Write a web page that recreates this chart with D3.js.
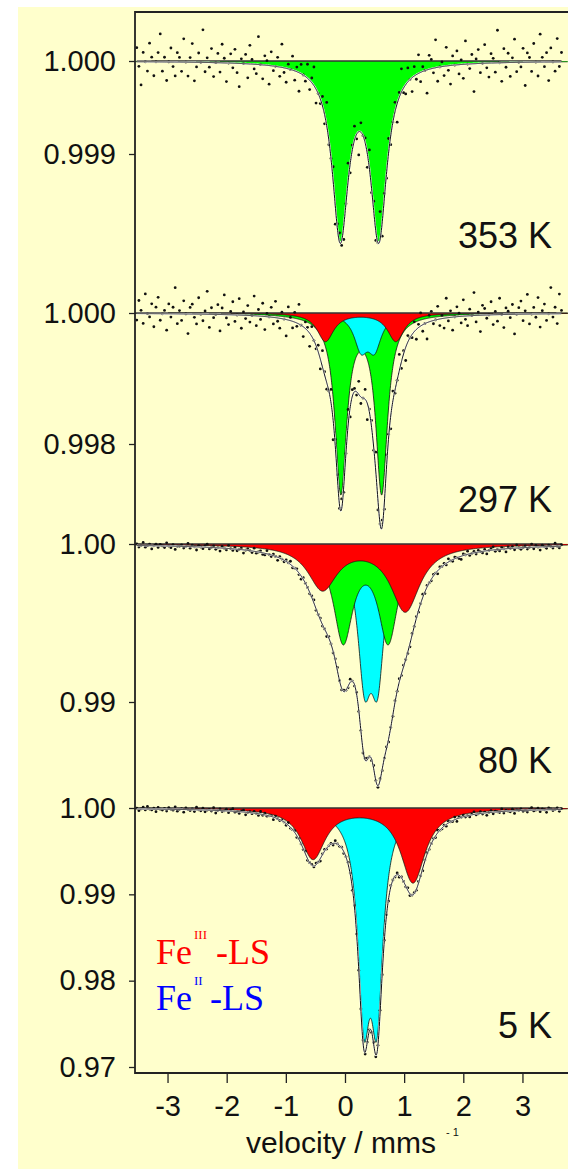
<!DOCTYPE html>
<html lang="en">
<head>
<meta charset="utf-8">
<script src="https://d3js.org/d3.v7.min.js"></script>
<style>
body { margin: 0; background: #fff; }
</style>
</head>
<body>
<script>
// velocity axis
var velocityTicks = [-3, -2, -1, 0, 1, 2, 3];
var velocityDomain = [-3.55, 3.77];
var channelRange = [-3.52, 3.66];

// one entry per panel, top to bottom
var panelNames = ["353 K", "297 K", "80 K", "5 K"];
var panelTicks = [[1.000, 0.999], [1.000, 0.998], [1.00, 0.99], [1.00, 0.99, 0.98, 0.97]];
var tickFormats = [".3f", ".3f", ".2f", ".2f"];

// fitted doublets: site, line centres (mm/s), line depths, half width
// listed in drawing order (deepest first)
var sites353 = [
	{site: "FeII_B", centers: [-0.08, 0.57], depths: [0.00185, 0.00185], hwhm: 0.165}
];
var sites297 = [
	{site: "FeII_B", centers: [-0.07, 0.62], depths: [0.0027, 0.0027], hwhm: 0.12},
	{site: "FeII_LS", centers: [0.27, 0.50], depths: [0.0005, 0.0005], hwhm: 0.14},
	{site: "FeIII_LS", centers: [-0.33, 0.86], depths: [0.00043, 0.00043], hwhm: 0.17}
];
var sites80 = [
	{site: "FeII_LS", centers: [0.33, 0.55], depths: [0.00765, 0.00765], hwhm: 0.14},
	{site: "FeII_B", centers: [-0.03, 0.73], depths: [0.006, 0.006], hwhm: 0.2},
	{site: "FeIII_LS", centers: [-0.38, 1.02], depths: [0.0028, 0.0042], hwhm: 0.3}
];
var sites5 = [
	{site: "FeII_LS", centers: [0.32, 0.54], depths: [0.0216, 0.0216], hwhm: 0.125},
	{site: "FeIII_LS", centers: [-0.54, 1.15], depths: [0.0058, 0.00858], hwhm: 0.25}
];

// measured points minus fit, in units of residualUnit
var residualUnit = [5e-5, 5e-5, 1e-4, 1e-4];
var resid353 = [3,-1,-5,2,0,-2,4,1,-3,0,2,6,-2,1,-4,0,3,-1,-3,2,
	1,-2,5,0,-3,1,4,-4,-1,2,0,7,-2,1,-1,3,-3,0,2,-2,
	4,1,-4,0,2,-1,3,-2,-5,1,0,2,-3,4,1,-1,-2,6,0,-3,
	2,1,-4,3,-1,0,2,-2,5,-1,-3,1,0,3,-2,1,-4,2,0,-1,
	3,-2,1,4,-3,0,-1,2,-2,5,-1,0,3,-4,1,2,-1,-3,0,4,
	-2,1,3,-1,-5,2,0,1,-3,4,-1,2,-2,0,6,-3,1,-1,3,-2,
	0,2,-4,1,5,-1,-2,3,0,-3,2,-1,4,-2,1,0,-5,3,2,-1,
	6,-3,0,1,-2,4,-1,-4,2,0,3,-2,1,-3,5,0,-1,2,-6,1,
	3,-2,0,4,-1,-3,2,1,-2,7,0,-4,3,-1,2,-3,1,5,-2,0,
	-1,3,-5,2,1,-2,4,0,-3,6,1,-1,2,-4,3,0,-2,5,-1,2];
var resid297 = [-2,4,1,-3,6,0,-1,3,-4,2,5,-2,0,1,-5,3,-1,2,8,-3,
	1,-2,4,0,-6,2,3,-1,-3,5,0,-2,1,7,-4,2,-1,0,3,-5,
	2,6,-1,-3,1,4,-2,0,5,-4,1,-1,3,-2,0,6,-3,2,-1,4,
	-4,1,0,3,-2,5,-1,-3,2,0,-5,4,1,-2,3,-1,6,0,-3,2,
	1,-4,3,0,-1,2,-3,5,1,-2,0,4,-6,2,1,-1,3,-2,0,5,
	-3,2,1,-1,4,-2,0,3,-5,1,2,-1,6,-3,0,2,-2,4,1,-4,
	3,-1,0,5,-2,1,-4,2,0,-1,3,-3,1,4,-2,0,-5,2,3,-1,
	0,4,-2,1,-3,6,-1,2,-4,0,3,1,-2,5,-1,-3,2,0,7,-2,
	1,-5,3,2,-1,0,4,-3,1,-2,5,0,-4,2,1,-1,3,-6,0,2,
	4,-2,1,6,-3,0,2,-1,5,-4,1,3,-2,0,8,-1,2,-3,6,1];
var resid80 = [1,-1,0,2,-1,0,1,-2,0,1,-1,1,0,-1,2,0,-1,1,-2,0,
	0,1,-1,0,2,-1,1,0,-2,1,0,-1,1,2,-1,0,1,-1,0,-2,
	1,0,-1,2,0,-1,1,-1,0,1,-2,0,1,0,-1,2,-1,0,1,-1,
	-1,2,0,-1,1,0,-2,1,0,-1,1,0,2,-1,0,1,-1,-2,1,0,
	0,-1,1,2,-1,0,1,-1,0,-2,1,0,-1,1,2,0,-1,1,0,-1,
	2,0,-1,1,-1,0,-2,1,1,0,-1,2,0,-1,1,-1,0,1,-2,0,
	-1,1,0,2,-1,1,0,-1,-2,1,0,1,-1,0,2,-1,1,0,-1,1,
	0,-2,1,0,1,-1,2,0,-1,1,0,-1,-2,1,0,2,-1,0,1,-1,
	1,0,-1,1,-2,0,1,2,-1,0,-1,1,0,-2,1,0,1,-1,2,0,
	-1,0,1,-1,0,2,-1,1,0,-2,1,0,-1,1,0,-1,2,0,-1,1];
var resid5 = [1,-2,0,2,-1,3,0,-1,1,-3,2,0,-1,1,-2,2,0,-1,3,-2,
	0,1,-3,2,0,-1,1,-2,3,0,-1,2,-2,0,1,-1,3,-3,0,2,
	-1,0,2,-2,1,3,-1,0,-2,1,2,-3,0,1,-1,2,0,-2,3,-1,
	2,-1,0,1,-3,2,0,-1,1,0,-2,3,-1,0,2,-2,1,0,-1,3,
	-2,0,1,-1,2,0,-3,1,2,-1,0,1,-2,3,0,-1,1,-2,0,2,
	1,-3,2,0,-1,1,3,-2,0,1,-1,2,-2,0,3,-1,0,1,-3,2,
	0,-1,2,-2,1,0,-1,3,-2,0,1,-1,2,0,-3,1,2,-1,0,1,
	-2,3,0,-1,1,-2,2,0,-1,3,-3,1,0,2,-1,0,-2,1,3,-1,
	0,2,-1,1,-3,0,2,-2,1,0,-1,3,-2,1,0,-1,2,-3,1,0,
	2,-1,0,-2,1,3,-1,0,2,-2,1,0,-3,2,1,-1,0,2,-2,1];

var panelSites = [sites353, sites297, sites80, sites5];
var panelResid = [resid353, resid297, resid80, resid5];

// layout
var W = 568, H = 1169;
var plotLeft = 135, plotRight = 568, plotTop = 12, plotBottom = 1073;
var panelPixels = [[61, 154], [313, 444], [544, 702], [808, 1067]];
var labelBaselines = [248, 512, 773, 1038];
var siteColor = {FeIII_LS: "#ff0000", FeII_LS: "#00ffff", FeII_B: "#00ff00"};
var sansFont = "'Liberation Sans', Arial, sans-serif";
var serifFont = "'Liberation Serif', 'Times New Roman', serif";

function absorption(sites, v){
	var s = 0;
	sites.forEach(function(c){
		c.centers.forEach(function(c0, i){
			var g2 = c.hwhm * c.hwhm;
			s += c.depths[i] * g2 / ((v - c0) * (v - c0) + g2);
		});
	});
	return s;
}

var svg = d3.select("body").append("svg")
	.attr("width", W)
	.attr("height", H);

svg.append("rect").attr("width", W).attr("height", H).attr("fill", "#fff");
svg.append("rect").attr("x", 18).attr("y", 7).attr("width", W - 18).attr("height", H - 7).attr("fill", "#ffffcc");

svg.append("clipPath").attr("id", "plotclip")
	.append("rect").attr("x", plotLeft).attr("y", plotTop)
	.attr("width", plotRight - plotLeft).attr("height", plotBottom - plotTop);

var x = d3.scaleLinear().domain(velocityDomain).range([plotLeft, plotRight]);
var grid = d3.range(velocityDomain[0], velocityDomain[1], 0.005);
var fitGrid = d3.range(channelRange[0], channelRange[1], 0.005);

var plot = svg.append("g").attr("clip-path", "url(#plotclip)");

panelSites.forEach(function(sites, p){
	var ticks = panelTicks[p];
	var y = d3.scaleLinear()
		.domain([ticks[0], ticks[ticks.length - 1]])
		.range(panelPixels[p]);
	var g = plot.append("g");

	sites.forEach(function(site){
		var area = d3.area()
			.x(function(v){ return x(v); })
			.y0(y(1))
			.y1(function(v){ return y(1 - absorption([site], v)); });
		var edge = d3.line()
			.x(function(v){ return x(v); })
			.y(function(v){ return y(1 - absorption([site], v)); });
		g.append("path").attr("d", area(grid)).attr("fill", siteColor[site.site]);
		g.append("path").attr("d", edge(grid)).attr("fill", "none")
			.attr("stroke", "#111").attr("stroke-width", 0.8);
	});

	// baseline
	g.append("line")
		.attr("x1", x(channelRange[0])).attr("x2", x(channelRange[1]))
		.attr("y1", y(1)).attr("y2", y(1))
		.attr("stroke", "#333").attr("stroke-width", 1.3);

	// measured points
	var resid = panelResid[p];
	var n = resid.length;
	var pts = resid.map(function(r, i){
		var v = channelRange[0] + i * (channelRange[1] - channelRange[0]) / (n - 1);
		return {v: v, t: 1 - absorption(sites, v) + r * residualUnit[p]};
	});
	g.selectAll(".pt").data(pts).enter().append("circle")
		.attr("cx", function(d){ return x(d.v); })
		.attr("cy", function(d){ return y(d.t); })
		.attr("r", 1.4)
		.attr("fill", "#111");

	// total fit
	var fit = d3.line()
		.x(function(v){ return x(v); })
		.y(function(v){ return y(1 - absorption(sites, v)); });
	g.append("path").attr("d", fit(fitGrid)).attr("fill", "none")
		.attr("stroke", "#fff").attr("stroke-width", 1.8);
	g.append("path").attr("d", fit(fitGrid)).attr("fill", "none")
		.attr("stroke", "#111").attr("stroke-width", 1);

	// y axis ticks
	var ax = svg.append("g")
		.attr("transform", "translate(" + plotLeft + ",0)")
		.call(d3.axisLeft(y).tickValues(ticks).tickFormat(d3.format(tickFormats[p])).tickSize(6).tickPadding(13));
	ax.select(".domain").remove();
	ax.selectAll("line").attr("stroke", "#222").attr("stroke-width", 1.3);
	ax.selectAll("text").attr("font-size", 29).attr("font-family", sansFont).attr("fill", "#111");

	svg.append("text")
		.attr("x", 552).attr("y", labelBaselines[p])
		.attr("text-anchor", "end")
		.attr("font-family", sansFont).attr("font-size", 36).attr("fill", "#111")
		.text(panelNames[p]);
});

// frame
svg.append("path")
	.attr("d", "M" + plotRight + "," + plotTop + "H" + plotLeft + "V" + plotBottom + "H" + plotRight)
	.attr("fill", "none").attr("stroke", "#222").attr("stroke-width", 1.8);

var xa = svg.append("g")
	.attr("transform", "translate(0," + plotBottom + ")")
	.call(d3.axisBottom(x).tickValues(velocityTicks).tickFormat(d3.format("d")).tickSize(10).tickPadding(12));
xa.select(".domain").remove();
xa.selectAll("line").attr("stroke", "#222").attr("stroke-width", 1.3);
xa.selectAll("text").attr("font-size", 29).attr("font-family", sansFont).attr("fill", "#111")
	.text(function(d){ return d < 0 ? "-" + Math.abs(d) : d; });

svg.append("text")
	.attr("x", 246).attr("y", 1153)
	.attr("font-family", sansFont).attr("font-size", 30).attr("fill", "#111")
	.text("velocity / mms");
svg.append("text")
	.attr("x", 446).attr("y", 1136)
	.attr("font-family", sansFont).attr("font-size", 11).attr("fill", "#111")
	.text("- 1");

// legend
function legendEntry(yBase, sup, dashX, color){
	svg.append("text").attr("x", 156).attr("y", yBase)
		.attr("font-family", serifFont).attr("font-size", 36).attr("fill", color).text("Fe");
	svg.append("text").attr("x", 194).attr("y", yBase - 25)
		.attr("font-family", serifFont).attr("font-size", 13).attr("fill", color).text(sup);
	svg.append("text").attr("x", dashX).attr("y", yBase)
		.attr("font-family", serifFont).attr("font-size", 36).attr("fill", color).text("-LS");
}
legendEntry(964, "III", 216, "#ff0000");
legendEntry(1010, "II", 210, "#0000ff");
</script>
</body>
</html>
